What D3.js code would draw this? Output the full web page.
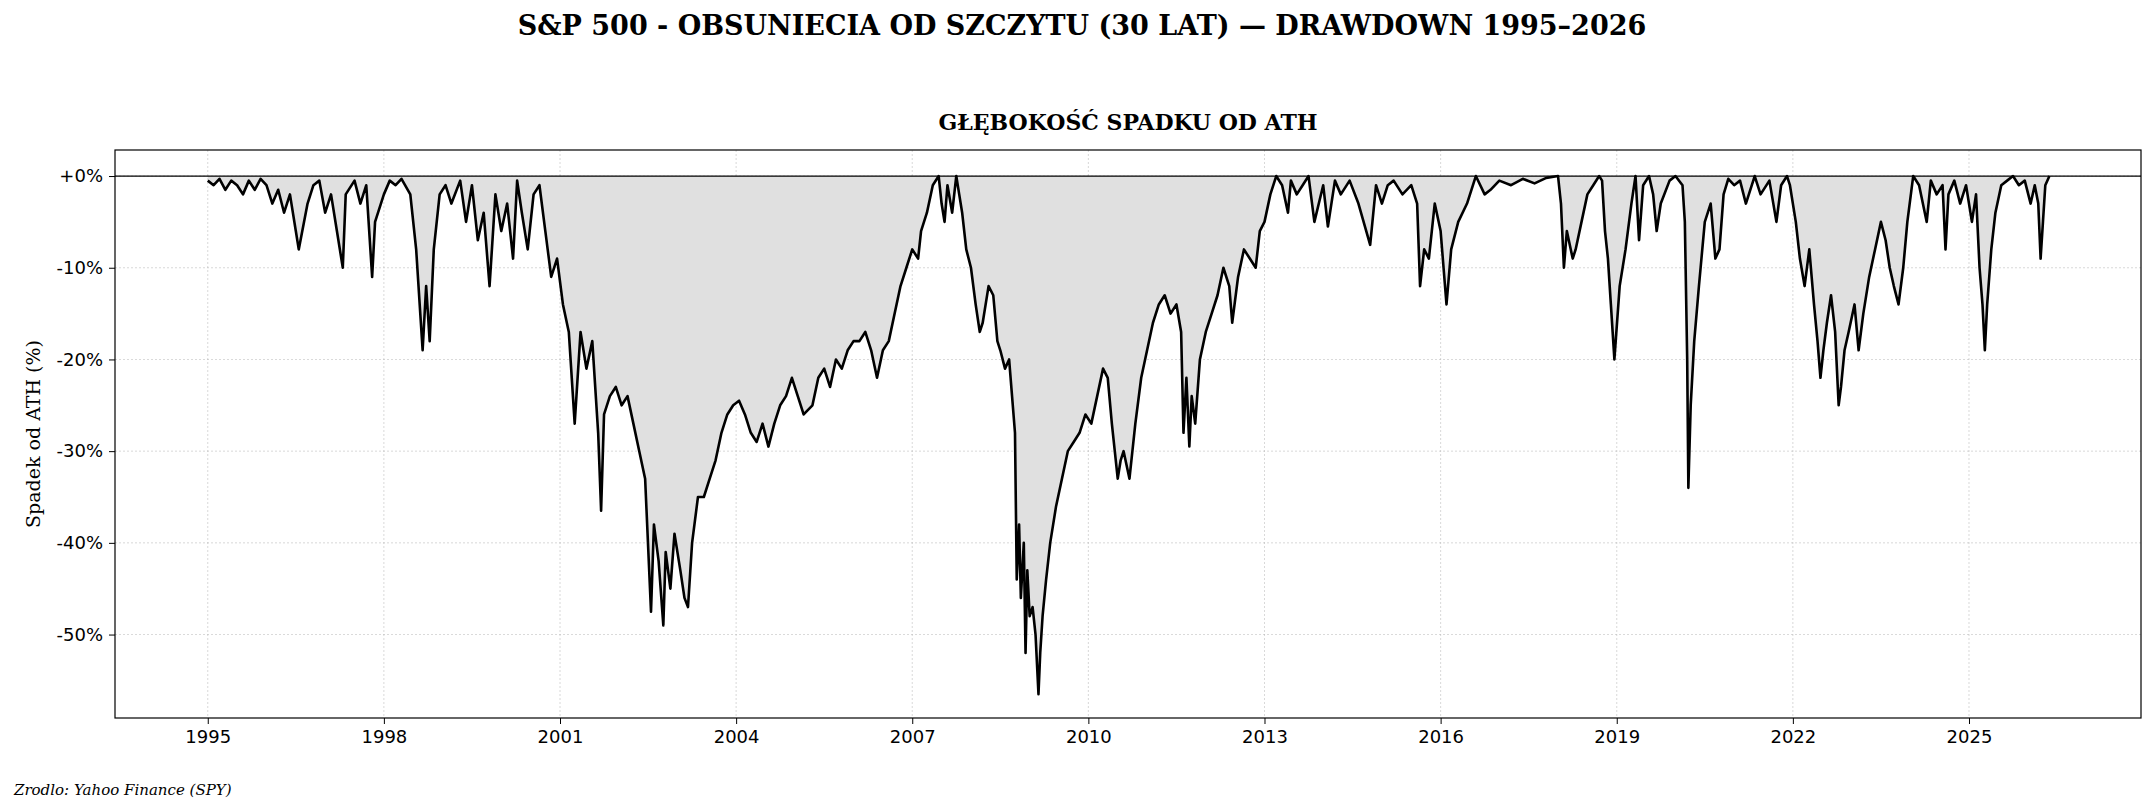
<!DOCTYPE html>
<html><head><meta charset="utf-8">
<script src="https://cdn.jsdelivr.net/npm/d3@7"></script>
<style>body{margin:0;background:#fff}</style></head>
<body><svg id="c" width="2156" height="812"></svg>
<script>
// [year, drawdown %]
const dd1995_2000 = [[1995.0,-0.5],[1995.1,-1],[1995.2,-0.3],[1995.3,-1.5],[1995.4,-0.5],[1995.5,-1],[1995.6,-2],[1995.7,-0.5],[1995.8,-1.5],[1995.9,-0.3],[1996.0,-1],[1996.1,-3],[1996.2,-1.5],[1996.3,-4],[1996.4,-2],[1996.5,-6],[1996.55,-8],[1996.7,-3],[1996.8,-1],[1996.9,-0.5],[1997.0,-4],[1997.1,-2],[1997.2,-6],[1997.3,-10],[1997.35,-2],[1997.5,-0.5],[1997.6,-3],[1997.7,-1],[1997.8,-11],[1997.85,-5],[1998.0,-2],[1998.1,-0.5],[1998.2,-1],[1998.3,-0.3],[1998.45,-2],[1998.55,-8],[1998.62,-15],[1998.66,-19],[1998.72,-12],[1998.78,-18],[1998.85,-8],[1998.95,-2],[1999.05,-1],[1999.15,-3],[1999.3,-0.5],[1999.4,-5],[1999.5,-1],[1999.6,-7],[1999.7,-4],[1999.8,-12],[1999.9,-2],[2000.0,-6],[2000.1,-3],[2000.2,-9],[2000.27,-0.5],[2000.35,-4],[2000.45,-8],[2000.55,-2],[2000.65,-1],[2000.75,-6]];
const dd2000_2007 = [[2000.85,-11],[2000.95,-9],[2001.05,-14],[2001.15,-17],[2001.25,-27],[2001.35,-17],[2001.45,-21],[2001.55,-18],[2001.65,-28],[2001.7,-36.5],[2001.75,-26],[2001.85,-24],[2001.95,-23],[2002.05,-25],[2002.15,-24],[2002.25,-27],[2002.35,-30],[2002.45,-33],[2002.55,-47.5],[2002.6,-38],[2002.68,-42],[2002.76,-49],[2002.8,-41],[2002.88,-45],[2002.95,-39],[2003.05,-43],[2003.12,-46],[2003.18,-47],[2003.25,-40],[2003.35,-35],[2003.45,-35],[2003.55,-33],[2003.65,-31],[2003.75,-28],[2003.85,-26],[2003.95,-25],[2004.05,-24.5],[2004.15,-26],[2004.25,-28],[2004.35,-29],[2004.45,-27],[2004.55,-29.5],[2004.65,-27],[2004.75,-25],[2004.85,-24],[2004.95,-22],[2005.05,-24],[2005.15,-26],[2005.3,-25],[2005.4,-22],[2005.5,-21],[2005.6,-23],[2005.7,-20],[2005.8,-21],[2005.9,-19],[2006.0,-18],[2006.1,-18],[2006.2,-17],[2006.3,-19],[2006.4,-22],[2006.5,-19],[2006.6,-18],[2006.7,-15],[2006.8,-12],[2006.9,-10],[2007.0,-8],[2007.1,-9],[2007.15,-6],[2007.25,-4],[2007.35,-1],[2007.45,0],[2007.5,-3],[2007.55,-5],[2007.6,-1],[2007.68,-4],[2007.75,0],[2007.8,-2]];
const dd2007_2013 = [[2007.85,-4],[2007.92,-8],[2008.0,-10],[2008.08,-14],[2008.15,-17],[2008.2,-16],[2008.3,-12],[2008.38,-13],[2008.45,-18],[2008.5,-19],[2008.58,-21],[2008.65,-20],[2008.7,-24],[2008.75,-28],[2008.78,-44],[2008.82,-38],[2008.85,-46],[2008.9,-40],[2008.93,-52],[2008.96,-43],[2009.0,-48],[2009.05,-47],[2009.1,-50],[2009.15,-56.5],[2009.18,-52],[2009.22,-48],[2009.28,-44],[2009.35,-40],[2009.45,-36],[2009.55,-33],[2009.65,-30],[2009.75,-29],[2009.85,-28],[2009.95,-26],[2010.05,-27],[2010.15,-24],[2010.25,-21],[2010.33,-22],[2010.4,-27],[2010.45,-30],[2010.5,-33],[2010.55,-31],[2010.6,-30],[2010.7,-33],[2010.8,-27],[2010.9,-22],[2011.0,-19],[2011.1,-16],[2011.2,-14],[2011.3,-13],[2011.4,-15],[2011.5,-14],[2011.58,-17],[2011.62,-28],[2011.67,-22],[2011.72,-29.5],[2011.76,-24],[2011.82,-27],[2011.9,-20],[2012.0,-17],[2012.1,-15],[2012.2,-13],[2012.3,-10],[2012.4,-12],[2012.45,-16],[2012.55,-11],[2012.65,-8],[2012.75,-9],[2012.85,-10],[2012.92,-6],[2013.0,-5],[2013.1,-2],[2013.2,0]];
const dd2013_2020 = [[2013.3,-1],[2013.4,-4],[2013.45,-0.5],[2013.55,-2],[2013.65,-1],[2013.75,0],[2013.85,-5],[2014.0,-1],[2014.08,-5.5],[2014.2,-0.5],[2014.3,-2],[2014.45,-0.5],[2014.6,-3],[2014.8,-7.5],[2014.9,-1],[2015.0,-3],[2015.1,-1],[2015.2,-0.5],[2015.35,-2],[2015.5,-1],[2015.6,-3],[2015.65,-12],[2015.72,-8],[2015.8,-9],[2015.9,-3],[2016.0,-6],[2016.05,-10],[2016.1,-14],[2016.18,-8],[2016.3,-5],[2016.45,-3],[2016.6,0],[2016.75,-2],[2016.85,-1.5],[2017.0,-0.5],[2017.2,-1],[2017.4,-0.3],[2017.6,-0.8],[2017.8,-0.2],[2018.0,0],[2018.05,-3],[2018.1,-10],[2018.15,-6],[2018.25,-9],[2018.3,-8],[2018.4,-5],[2018.5,-2],[2018.6,-1],[2018.7,0],[2018.75,-0.5],[2018.8,-6],[2018.85,-9],[2018.9,-14],[2018.96,-20],[2019.05,-12],[2019.15,-8],[2019.25,-3],[2019.32,0],[2019.38,-7],[2019.45,-1],[2019.55,0],[2019.62,-2],[2019.68,-6],[2019.75,-3],[2019.9,-0.5],[2020.0,0],[2020.12,-1]];
const dd2020_2026 = [[2020.16,-5],[2020.2,-20],[2020.22,-34],[2020.26,-25],[2020.32,-18],[2020.4,-12],[2020.5,-5],[2020.6,-3],[2020.68,-9],[2020.75,-8],[2020.82,-2],[2020.9,-0.3],[2021.0,-1],[2021.1,-0.5],[2021.2,-3],[2021.35,0],[2021.45,-2],[2021.6,-0.5],[2021.72,-5],[2021.8,-1],[2021.9,0],[2021.95,-1],[2022.05,-5],[2022.12,-9],[2022.2,-12],[2022.28,-8],[2022.36,-14],[2022.42,-18],[2022.47,-22],[2022.52,-19],[2022.58,-16],[2022.65,-13],[2022.72,-17],[2022.78,-25],[2022.82,-23],[2022.88,-19],[2022.95,-17],[2023.05,-14],[2023.12,-19],[2023.2,-15],[2023.3,-11],[2023.4,-8],[2023.5,-5],[2023.58,-7],[2023.65,-10],[2023.72,-12],[2023.8,-14],[2023.88,-10],[2023.95,-5],[2024.05,0],[2024.15,-1],[2024.28,-5],[2024.35,-0.5],[2024.45,-2],[2024.55,-1],[2024.6,-8],[2024.65,-2],[2024.75,-0.5],[2024.85,-3],[2024.95,-1],[2025.05,-5],[2025.12,-2],[2025.18,-10],[2025.23,-14],[2025.27,-19],[2025.31,-14],[2025.38,-8],[2025.45,-4],[2025.55,-1],[2025.65,-0.5],[2025.75,0],[2025.85,-1],[2025.95,-0.5],[2026.05,-3],[2026.12,-1],[2026.18,-3],[2026.22,-9],[2026.26,-5],[2026.3,-1],[2026.37,0]];
const yTicks = [0,-10,-20,-30,-40,-50];
const xTicks = [1995,1998,2001,2004,2007,2010,2013,2016,2019,2022,2025];

const svg = d3.select("#c");
const L=115,R=2141,T=150,B=718;
const x = d3.scaleLinear().domain([1993.42,2027.93]).range([L,R]);
const y = d3.scaleLinear().domain([-59.1,2.84]).range([B,T]);
const data = [].concat(dd1995_2000,dd2000_2007,dd2007_2013,dd2013_2020,dd2020_2026).map(([t,v])=>({t,v}));

const g = svg.append("g");
g.selectAll(".gx").data(xTicks).join("line").attr("x1",d=>x(d)).attr("x2",d=>x(d)).attr("y1",T).attr("y2",B)
 .attr("stroke","#b0b0b0").attr("stroke-width",0.8).attr("stroke-dasharray","2,2").attr("opacity",0.6);
g.selectAll(".gy").data(yTicks).join("line").attr("y1",d=>y(d)).attr("y2",d=>y(d)).attr("x1",L).attr("x2",R)
 .attr("stroke","#b0b0b0").attr("stroke-width",0.8).attr("stroke-dasharray","2,2").attr("opacity",0.6);

g.append("path").datum(data).attr("fill","#e0e0e0")
 .attr("d",d3.area().x(d=>x(d.t)).y0(y(0)).y1(d=>y(d.v)));
g.append("line").attr("x1",L).attr("x2",R).attr("y1",y(0)).attr("y2",y(0)).attr("stroke","#000").attr("stroke-width",1.3);
g.append("path").datum(data).attr("fill","none").attr("stroke","#000").attr("stroke-width",2.6).attr("stroke-linejoin","round")
 .attr("d",d3.line().x(d=>x(d.t)).y(d=>y(d.v)));

const xa = svg.append("g").attr("transform",`translate(0,${B})`)
 .call(d3.axisBottom(x).tickValues(xTicks).tickFormat(d3.format("d")).tickSize(6).tickPadding(6));
const ya = svg.append("g").attr("transform",`translate(${L},0)`)
 .call(d3.axisLeft(y).tickValues(yTicks).tickFormat(d=>d===0?"+0%":d+"%").tickSize(6).tickPadding(6));
[xa,ya].forEach(a=>{a.select(".domain").remove();a.selectAll("text").attr("font-family","DejaVu Sans").attr("font-size",18).attr("fill","#000");a.selectAll("line").attr("stroke","#000");});
svg.append("rect").attr("x",L).attr("y",T).attr("width",R-L).attr("height",B-T).attr("fill","none").attr("stroke","#000").attr("stroke-width",1.2);

svg.append("text").attr("x",1082).attr("y",35).attr("text-anchor","middle").attr("font-family","DejaVu Serif").attr("font-weight","bold").attr("font-size",27).text("S&P 500 - OBSUNIECIA OD SZCZYTU (30 LAT) — DRAWDOWN 1995–2026");
svg.append("text").attr("x",(L+R)/2).attr("y",130).attr("text-anchor","middle").attr("font-family","DejaVu Serif").attr("font-weight","bold").attr("font-size",22).text("GŁĘBOKOŚĆ SPADKU OD ATH");
svg.append("text").attr("transform",`translate(40,${(T+B)/2}) rotate(-90)`).attr("text-anchor","middle").attr("font-family","DejaVu Serif").attr("font-size",19).text("Spadek od ATH (%)");
svg.append("text").attr("x",14).attr("y",795).attr("font-family","DejaVu Serif").attr("font-style","italic").attr("font-size",15).text("Zrodlo: Yahoo Finance (SPY)");
</script></body></html>
